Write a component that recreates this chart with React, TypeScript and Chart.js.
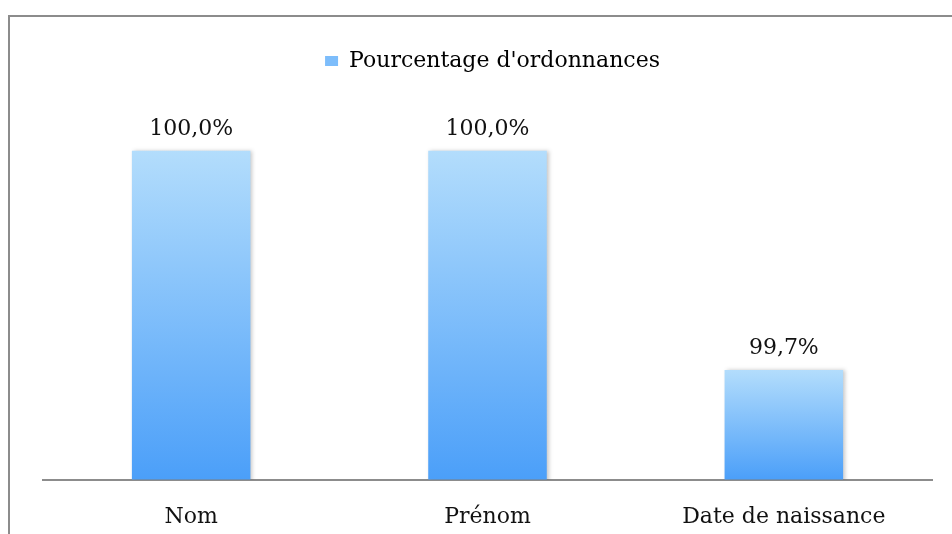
import React, { useEffect, useRef } from "react";
import { Chart, registerables } from "chart.js";

Chart.register(...registerables);

const categories: string[] = ["Nom", "Prénom", "Date de naissance"];
const seriesLabel = "Pourcentage d'ordonnances";
const values: number[] = [100.0, 100.0, 99.7];

const FONT = "'DejaVu Serif', serif";

const fmt = (v: number) => v.toFixed(1).replace(".", ",") + "%";

const framePlugin = {
  id: "frame",
  beforeDraw(chart: any) {
    const ctx = chart.ctx;
    ctx.save();
    ctx.fillStyle = "#ffffff";
    ctx.fillRect(0, 0, chart.width, chart.height);
    ctx.strokeStyle = "#8c8c8c";
    ctx.lineWidth = 2;
    ctx.beginPath();
    ctx.moveTo(9, chart.height);
    ctx.lineTo(9, 16);
    ctx.lineTo(chart.width, 16);
    ctx.stroke();
    ctx.restore();
  },
};

const legendShiftPlugin = {
  id: "legendShift",
  afterLayout(chart: any) {
    const lg = chart.legend;
    if (lg) {
      lg.left += 5;
      lg.right += 5;
    }
  },
};

const shadowPlugin = {
  id: "barShadow",
  beforeDatasetsDraw(chart: any) {
    const ctx = chart.ctx;
    ctx.save();
    ctx.shadowColor = "rgba(0,0,0,0.22)";
    ctx.shadowBlur = 4;
    ctx.shadowOffsetX = 2;
    ctx.shadowOffsetY = 0;
  },
  afterDatasetsDraw(chart: any) {
    chart.ctx.restore();
  },
};

const labelPlugin = {
  id: "valueLabels",
  afterDatasetsDraw(chart: any) {
    const ctx = chart.ctx;
    const meta = chart.getDatasetMeta(0);
    ctx.save();
    ctx.fillStyle = "#111111";
    ctx.font = `22px ${FONT}`;
    ctx.textAlign = "center";
    ctx.textBaseline = "alphabetic";
    meta.data.forEach((bar: any, i: number) => {
      ctx.fillText(fmt(values[i]), bar.x, bar.y - 16);
    });
    ctx.restore();
  },
};

export default function App() {
  const ref = useRef<HTMLCanvasElement | null>(null);

  useEffect(() => {
    if (!ref.current) return;
    const chart = new Chart(ref.current, {
      type: "bar",
      data: {
        labels: categories,
        datasets: [
          {
            label: seriesLabel,
            data: values,
            backgroundColor: (c: any) => {
              const ch = c.chart;
              const area = ch.chartArea;
              if (!area || c.dataIndex === undefined || !ch.scales.y) return "#7dbdfb";
              const top = ch.scales.y.getPixelForValue(values[c.dataIndex]);
              const bottom = area.bottom;
              const g = ch.ctx.createLinearGradient(0, top, 0, bottom);
              g.addColorStop(0, "#b3ddfc");
              g.addColorStop(1, "#4b9ff9");
              return g;
            },
            borderWidth: 0,
            barPercentage: 0.4,
            categoryPercentage: 1,
          },
        ],
      },
      options: {
        animation: false,
        responsive: false,
        layout: { padding: { left: 43, right: 20, top: 42, bottom: -20 } },
        plugins: {
          legend: {
            display: true,
            position: "top",
            labels: {
              font: { family: FONT, size: 22 },
              color: "#111111",
              boxWidth: 13,
              boxHeight: 10,
              padding: 8,
              generateLabels: () => [
                {
                  text: seriesLabel,
                  fillStyle: "#7dbdfb",
                  strokeStyle: "#7dbdfb",
                  lineWidth: 0,
                  hidden: false,
                  datasetIndex: 0,
                } as any,
              ],
            },
          },
          tooltip: { enabled: false },
        },
        scales: {
          x: {
            grid: { display: false, drawTicks: false },
            border: { display: true, color: "#8c8c8c", width: 2 },
            ticks: {
              font: { family: FONT, size: 22 },
              color: "#111111",
              padding: 24,
            },
          },
          y: {
            display: false,
            min: 99.55,
            max: 100.094,
          },
        },
      },
      plugins: [framePlugin, legendShiftPlugin, shadowPlugin, labelPlugin],
    });
    return () => chart.destroy();
  }, []);

  return (
    <div style={{ position: "absolute", left: 0, top: 0, width: 952, height: 534 }}>
      <canvas ref={ref} width={952} height={534} style={{ display: "block" }} />
    </div>
  );
}
